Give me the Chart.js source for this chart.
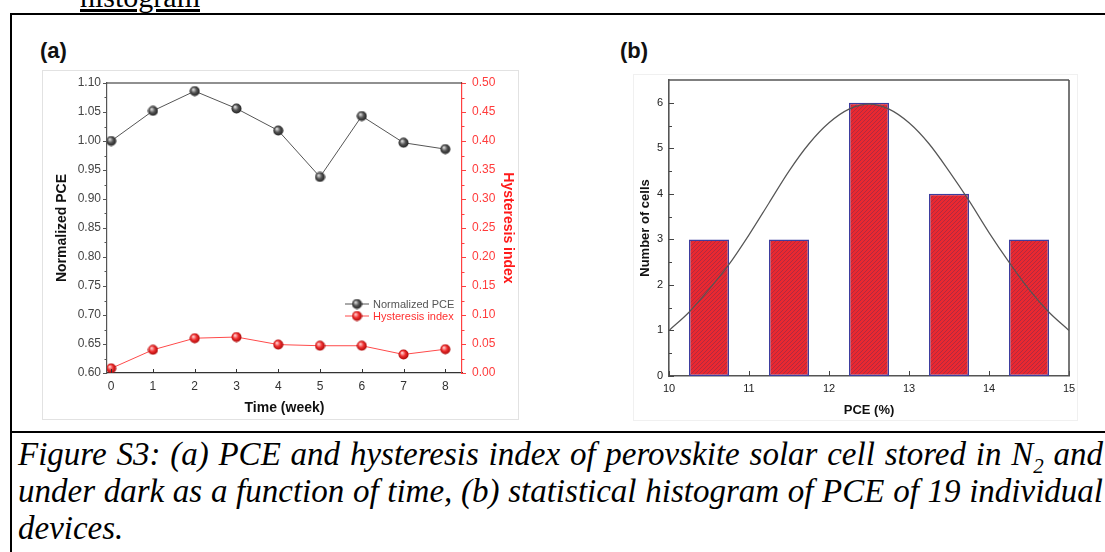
<!DOCTYPE html>
<html>
<head>
<meta charset="utf-8">
<script src="https://cdn.jsdelivr.net/npm/chart.js@4"></script>
<style>
  html, body { margin: 0; padding: 0; background: #fff; }
  body { width: 1105px; height: 552px; position: relative; overflow: hidden; }
  .cut { position: absolute; left: 80px; top: -18px; font: 30px "Liberation Serif", "Times New Roman", serif; text-decoration: underline; line-height: 30px; }
  .hline { position: absolute; left: 10px; width: 1200px; height: 2px; background: #000; }
  .vline { position: absolute; left: 10px; top: 13px; width: 2px; height: 560px; background: #000; }
  .panel { position: absolute; font: bold 22px Arial, "Liberation Sans", sans-serif; color: #111; }
  .box { position: absolute; }
  .caption { position: absolute; left: 18px; top: 436px; width: 1085px; font: italic 33px "Liberation Serif", "Times New Roman", serif; line-height: 37px; text-align: justify; color: #000; }
  .caption sub { font-size: 21px; line-height: 0; }
</style>
</head>
<body>
<div class="cut">histogram</div>
<div class="hline" style="top:13px"></div>
<div class="hline" style="top:431px"></div>
<div class="vline"></div>

<div class="panel" style="left:40px; top:38px">(a)</div>
<div class="panel" style="left:620px; top:38px">(b)</div>

<div class="box" style="left:43px; top:71px; width:475px; height:348px; outline:1px solid #e2e2e2">
  <canvas id="chartA" width="475" height="348"></canvas>
</div>
<div class="box" style="left:634px; top:75px; width:443px; height:345px; outline:1px solid #f0f0f0">
  <canvas id="chartB" width="443" height="345"></canvas>
</div>

<div class="caption">Figure S3: (a) PCE and hysteresis index of perovskite solar cell stored in N<sub>2</sub> and under dark as a function of time, (b) statistical histogram of PCE of 19 individual devices.</div>

<script>
// ---- data (a) ----
const weeks = [0, 1, 2, 3, 4, 5, 6, 7, 8];
const normalizedPCE = [1.000, 1.052, 1.086, 1.056, 1.018, 0.938, 1.043, 0.997, 0.986];
const hysteresisIndex = [0.008, 0.040, 0.060, 0.062, 0.049, 0.047, 0.047, 0.032, 0.041];

// ---- data (b) ----
const pceBins = [10.5, 11.5, 12.5, 13.5, 14.5];
const cellCounts = [3, 3, 6, 4, 3];
// fitted curve
const fitX = [10, 10.25, 10.5, 10.75, 11, 11.25, 11.5, 11.75, 12, 12.25, 12.5,
              12.75, 13, 13.25, 13.5, 13.75, 14, 14.25, 14.5, 14.75, 15];
const fitY = [1.0, 1.4, 1.9, 2.45, 3.1, 3.8, 4.5, 5.1, 5.56, 5.86, 5.97,
              5.86, 5.56, 5.1, 4.5, 3.85, 3.15, 2.5, 1.9, 1.4, 1.0];

const FONT = "Arial, 'Liberation Sans', sans-serif";

// shaded ball used as point marker
function makeBall(light, mid, dark) {
  const c = document.createElement("canvas");
  c.width = 11; c.height = 11;
  const g = c.getContext("2d");
  const grad = g.createRadialGradient(4, 3.8, 0.5, 5.5, 5.5, 5.5);
  grad.addColorStop(0, light);
  grad.addColorStop(0.45, mid);
  grad.addColorStop(1, dark);
  g.fillStyle = grad;
  g.beginPath();
  g.arc(5.5, 5.5, 5, 0, Math.PI * 2);
  g.fill();
  return c;
}
const greyBall = makeBall("#d8d8d8", "#555", "#1a1a1a");
const redBall = makeBall("#ffc8c8", "#f03030", "#a00000");

// diagonal hatch for the bars
function makeHatch() {
  const s = 4;
  const c = document.createElement("canvas");
  c.width = s; c.height = s;
  const g = c.getContext("2d");
  g.fillStyle = "#ea2830";
  g.fillRect(0, 0, s, s);
  g.strokeStyle = "#8a2c4c";
  g.lineWidth = 0.6;
  g.beginPath();
  g.moveTo(0, s); g.lineTo(s, 0);
  g.moveTo(-1, 1); g.lineTo(1, -1);
  g.moveTo(s - 1, s + 1); g.lineTo(s + 1, s - 1);
  g.stroke();
  return g.createPattern(c, "repeat");
}

// keep the plot box where it is: no extra room for half labels
function fixWidth(w) {
  return s => { s.width = w; s.paddingTop = 0; s.paddingBottom = 0; };
}
function fixHeight(h) {
  return s => { s.height = h; s.paddingLeft = 0; s.paddingRight = 0; };
}

// tick marks (major + minor), drawn in or out of the plot box
const tickMarks = {
  id: "tickMarks",
  afterDraw(chart, args, opts) {
    const ctx = chart.ctx;
    (opts.axes || []).forEach(a => {
      const scale = chart.scales[a.id];
      const vals = scale.ticks.map(t => t.value);
      const marks = vals.map(v => [v, a.major]);
      if (a.minor) {
        for (let i = 0; i < vals.length - 1; i++) marks.push([(vals[i] + vals[i + 1]) / 2, a.minor]);
      }
      ctx.save();
      ctx.strokeStyle = a.color;
      ctx.lineWidth = 1;
      marks.forEach(([v, len]) => {
        const p = Math.round(scale.getPixelForValue(v)) + 0.5;
        ctx.beginPath();
        if (scale.isHorizontal()) {
          const y0 = scale.top;
          ctx.moveTo(p, y0); ctx.lineTo(p, y0 + a.dir * len);
        } else {
          const x0 = scale.position === "left" ? scale.right : scale.left;
          ctx.moveTo(x0, p); ctx.lineTo(x0 + a.dir * len, p);
        }
        ctx.stroke();
      });
      ctx.restore();
    });
  }
};

// top / right frame lines not covered by an axis
const frame = {
  id: "frame",
  afterDraw(chart, args, opts) {
    const { ctx, chartArea: ca } = chart;
    ctx.save();
    ctx.lineWidth = opts.width || 1;
    if (opts.top) {
      ctx.strokeStyle = opts.top;
      ctx.beginPath(); ctx.moveTo(ca.left, ca.top); ctx.lineTo(ca.right, ca.top); ctx.stroke();
    }
    if (opts.right) {
      ctx.strokeStyle = opts.right;
      ctx.beginPath(); ctx.moveTo(ca.right, ca.top); ctx.lineTo(ca.right, ca.bottom); ctx.stroke();
    }
    ctx.restore();
  }
};

// small legend inside the plot, lower right
const innerLegend = {
  id: "innerLegend",
  afterDraw(chart, args, opts) {
    const { ctx, chartArea: ca } = chart;
    ctx.save();
    ctx.font = "11px " + FONT;
    ctx.textBaseline = "middle";
    chart.data.datasets.forEach((ds, i) => {
      const y = ca.bottom - opts.bottom + i * opts.gap;
      const x0 = ca.right - opts.right;
      ctx.strokeStyle = ds.borderColor;
      ctx.lineWidth = 1;
      ctx.beginPath(); ctx.moveTo(x0, y); ctx.lineTo(x0 + 24, y); ctx.stroke();
      ctx.drawImage(ds.pointStyle, x0 + 12 - 5.5, y - 5.5);
      ctx.fillStyle = ds.legendText;
      ctx.fillText(ds.label, x0 + 28, y + 0.5);
    });
    ctx.restore();
  }
};

// ---- chart (a) ----
new Chart(document.getElementById("chartA"), {
  type: "line",
  data: {
    labels: weeks,
    datasets: [
      {
        label: "Normalized PCE",
        data: weeks.map((w, i) => ({ x: w, y: normalizedPCE[i] })),
        yAxisID: "y",
        borderColor: "#555",
        legendText: "#555",
        borderWidth: 1,
        pointStyle: greyBall,
        tension: 0
      },
      {
        label: "Hysteresis index",
        data: weeks.map((w, i) => ({ x: w, y: hysteresisIndex[i] })),
        yAxisID: "y1",
        borderColor: "#ff4a4a",
        legendText: "#ff3030",
        borderWidth: 1,
        pointStyle: redBall,
        tension: 0
      }
    ]
  },
  options: {
    responsive: false,
    animation: false,
    layout: { padding: { top: 12, right: 0, left: 0, bottom: 0 } },
    plugins: {
      legend: { display: false },
      tooltip: { enabled: false },
      tickMarks: {
        axes: [
          { id: "y", major: 4, minor: 2.5, dir: -1, color: "#555" },
          { id: "y1", major: 4, minor: 2.5, dir: 1, color: "#ff4040" },
          { id: "x", major: 4, dir: -1, color: "#333" }
        ]
      },
      frame: { top: "#222", width: 1.2 },
      innerLegend: { right: 117, bottom: 69, gap: 12 }
    },
    scales: {
      x: {
        type: "linear",
        min: -0.1,
        max: 8.4,
        afterFit: fixHeight(46),
        grid: { display: false, drawTicks: false },
        border: { color: "#333", width: 1.2 },
        ticks: { stepSize: 1, includeBounds: false, padding: 6, color: "#333", font: { family: FONT, size: 12 } },
        title: { display: true, text: "Time (week)", color: "#111", padding: { top: 0, bottom: 2.5 }, font: { family: FONT, size: 14, weight: "bold" } }
      },
      y: {
        position: "left",
        min: 0.60,
        max: 1.10,
        afterFit: fixWidth(64),
        grid: { display: false, drawTicks: false },
        border: { color: "#555", width: 1.2 },
        ticks: { stepSize: 0.05, padding: 6, color: "#444", font: { family: FONT, size: 12 }, callback: v => v.toFixed(2) },
        title: { display: true, text: "Normalized PCE", color: "#111", padding: { top: 10.5, bottom: 0 }, font: { family: FONT, size: 14, weight: "bold" } }
      },
      y1: {
        position: "right",
        min: 0,
        max: 0.50,
        afterFit: fixWidth(56),
        grid: { display: false, drawTicks: false },
        border: { color: "#ff4040", width: 1.2 },
        ticks: { stepSize: 0.05, padding: 10, color: "#ff3b3b", font: { family: FONT, size: 12 }, callback: v => v.toFixed(2) },
        title: { display: true, text: "Hysteresis index", color: "#ff1a1a", padding: { top: 1.5, bottom: 0 }, font: { family: FONT, size: 14, weight: "bold" } }
      }
    }
  },
  plugins: [tickMarks, frame, innerLegend]
});

// ---- chart (b) ----
new Chart(document.getElementById("chartB"), {
  data: {
    datasets: [
      {
        type: "line",
        label: "Fit",
        data: fitX.map((x, i) => ({ x, y: fitY[i] })),
        borderColor: "#555",
        borderWidth: 1.2,
        pointRadius: 0,
        tension: 0.4,
        cubicInterpolationMode: "monotone",
        order: 0
      },
      {
        type: "bar",
        label: "Number of cells",
        data: pceBins.map((x, i) => ({ x, y: cellCounts[i] })),
        backgroundColor: makeHatch(),
        borderColor: "#3d3d9e",
        borderWidth: 1.5,
        borderSkipped: false,
        barPercentage: 0.5,
        categoryPercentage: 1.0,
        order: 1
      }
    ]
  },
  options: {
    responsive: false,
    animation: false,
    layout: { padding: { top: 5, right: 8, left: 0, bottom: 0 } },
    plugins: {
      legend: { display: false },
      tooltip: { enabled: false },
      tickMarks: {
        axes: [
          { id: "y", major: 5, minor: 3, dir: 1, color: "#444" },
          { id: "x", major: 5, minor: 0, dir: -1, color: "#444" }
        ]
      },
      frame: { top: "#555", right: "#555", width: 1.6 }
    },
    scales: {
      x: {
        type: "linear",
        min: 10,
        max: 15,
        offset: false,
        afterFit: fixHeight(44),
        grid: { display: false, drawTicks: false, offset: false },
        border: { color: "#555", width: 1.6 },
        ticks: { stepSize: 1, padding: 6, color: "#222", font: { family: FONT, size: 11 } },
        title: { display: true, text: "PCE (%)", color: "#111", padding: { top: 0, bottom: 2.2 }, font: { family: FONT, size: 13, weight: "bold" } }
      },
      y: {
        min: 0,
        max: 6.5,
        afterFit: fixWidth(35),
        grid: { display: false, drawTicks: false },
        border: { color: "#555", width: 1.6 },
        ticks: { stepSize: 1, includeBounds: false, padding: 6, color: "#222", font: { family: FONT, size: 11 } },
        title: { display: true, text: "Number of cells", color: "#111", padding: { top: 3.2, bottom: 0 }, font: { family: FONT, size: 13, weight: "bold" } }
      }
    }
  },
  plugins: [tickMarks, frame]
});
</script>
</body>
</html>
